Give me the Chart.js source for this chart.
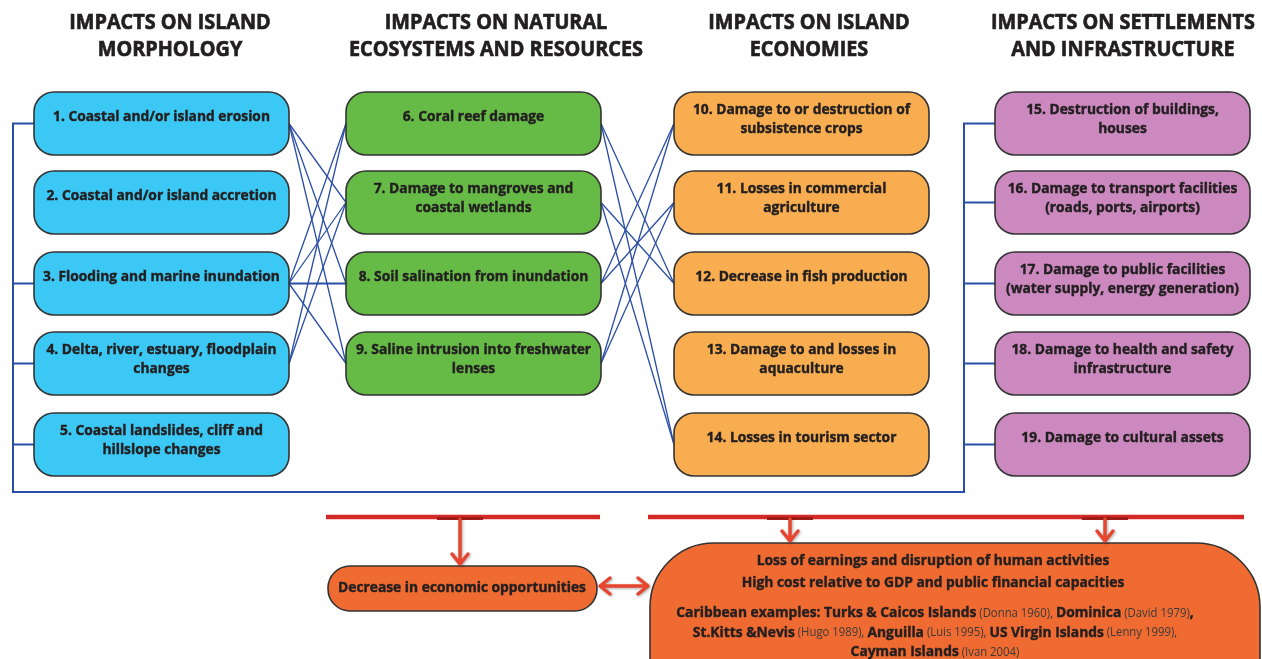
<!DOCTYPE html>
<html>
<head>
<meta charset="utf-8">
<script src="https://cdn.jsdelivr.net/npm/chart.js@4.4.1/dist/chart.umd.min.js"></script>
<style>
  html, body { margin: 0; padding: 0; background: #fff; }
  #wrap { width: 1262px; height: 659px; }
</style>
</head>
<body>
<div id="wrap"><canvas id="impactChart" width="1262" height="659"></canvas></div>
<script>
// ---- content ----
const headings = [
  ['IMPACTS ON ISLAND', 'MORPHOLOGY'],
  ['IMPACTS ON NATURAL', 'ECOSYSTEMS AND RESOURCES'],
  ['IMPACTS ON ISLAND', 'ECONOMIES'],
  ['IMPACTS ON SETTLEMENTS', 'AND INFRASTRUCTURE']
];
const morphology = [
  ['1. Coastal and/or island erosion'],
  ['2. Coastal and/or island accretion'],
  ['3. Flooding and marine inundation'],
  ['4. Delta, river, estuary, floodplain', 'changes'],
  ['5. Coastal landslides, cliff and', 'hillslope changes']
];
const ecosystems = [
  ['6. Coral reef damage'],
  ['7. Damage to mangroves and', 'coastal wetlands'],
  ['8. Soil salination from inundation'],
  ['9. Saline intrusion into freshwater', 'lenses']
];
const economies = [
  ['10. Damage to or destruction of', 'subsistence crops'],
  ['11. Losses in commercial', 'agriculture'],
  ['12. Decrease in fish production'],
  ['13. Damage to and losses in', 'aquaculture'],
  ['14. Losses in tourism sector']
];
const settlements = [
  ['15. Destruction of buildings,', 'houses'],
  ['16. Damage to transport facilities', '(roads, ports, airports)'],
  ['17. Damage to public facilities', '(water supply, energy generation)'],
  ['18. Damage to health and safety', 'infrastructure'],
  ['19. Damage to cultural assets']
];
// which impact leads to which (item numbers)
const links = [
  [1, 7], [1, 8], [1, 9],
  [3, 6], [3, 7], [3, 8], [3, 9],
  [4, 6], [4, 7],
  [6, 12], [6, 14], [7, 12], [7, 14],
  [8, 10], [8, 11], [9, 10], [9, 11]
];
const leftBracket = [1, 3, 4, 5];
const rightBracket = [15, 16, 17, 18, 19];
const sideEffect = 'Decrease in economic opportunities';
const mainEffects = [
  'Loss of earnings and disruption of human activities',
  'High cost relative to GDP and public financial capacities'
];
// [text, bold]
const examples = [
  [['Caribbean examples: Turks & Caicos Islands', true], [' (Donna 1960), ', false], ['Dominica', true], [' (David 1979)', false], [',', true]],
  [['St.Kitts &Nevis', true], [' (Hugo 1989), ', false], ['Anguilla', true], [' (Luis 1995), ', false], ['US Virgin Islands', true], [' (Lenny 1999),', false]],
  [['Cayman Islands', true], [' (Ivan 2004)', false]]
];

// ---- layout / style ----
const columns = [morphology, ecosystems, economies, settlements];
const colFill = ['#3cc8f4', '#66bb47', '#f8ae50', '#cb89bf'];
const colLeft = [34, 346, 674, 995];
const boxW = 255, boxH = 63, boxR = 20;
const rowTop = [92, 171, 252, 332, 413];
const headingX = [170, 496, 809, 1123];
const bracketX = [13, 964], bracketBottom = 492;
const linkColor = '#2a4ea6';
const ink = '#231f20';
const orange = '#f06b31';
const redLine = '#d42a27', redArrow = '#e8452f';
const face = "'Open Sans'";
const boxFont = `bold 15px ${face}`;
const squeeze = 0.92;

function itemPos(n) {
  let k = n - 1;
  for (let c = 0; c < columns.length; c++) {
    if (k < columns[c].length) return { c, r: k };
    k -= columns[c].length;
  }
}
const midY = r => rowTop[r] + boxH / 2;

// ---- line datasets (links, brackets, red bars) ----
const datasets = [];
function addLine(points, color, width) {
  datasets.push({
    data: points.map(p => ({ x: p[0], y: p[1] })),
    showLine: true, borderColor: color, borderWidth: width,
    pointRadius: 0, fill: false, tension: 0
  });
}
links.forEach(([a, b]) => {
  const pa = itemPos(a), pb = itemPos(b);
  const w = pa.r === pb.r ? 2.2 : 1.3;
  addLine([[colLeft[pa.c] + boxW, midY(pa.r)], [colLeft[pb.c], midY(pb.r)]], linkColor, w);
});
{
  const first = itemPos(leftBracket[0]), last = itemPos(rightBracket[0]);
  addLine([[colLeft[0], midY(first.r)], [bracketX[0], midY(first.r)], [bracketX[0], bracketBottom],
           [bracketX[1], bracketBottom], [bracketX[1], midY(last.r)], [colLeft[3], midY(last.r)]], linkColor, 2);
  leftBracket.slice(1).forEach(n => { const p = itemPos(n); addLine([[bracketX[0], midY(p.r)], [colLeft[0], midY(p.r)]], linkColor, 2); });
  rightBracket.slice(1).forEach(n => { const p = itemPos(n); addLine([[bracketX[1], midY(p.r)], [colLeft[3], midY(p.r)]], linkColor, 2); });
}
const barY = 517;
addLine([[326, barY], [600, barY]], redLine, 4.5);
addLine([[648, barY], [1244, barY]], redLine, 4.5);

// ---- drawing helpers ----
function roundBox(ctx, x, y, w, h, r, fill) {
  ctx.beginPath();
  ctx.moveTo(x + r, y);
  ctx.arcTo(x + w, y, x + w, y + h, r);
  ctx.arcTo(x + w, y + h, x, y + h, r);
  ctx.arcTo(x, y + h, x, y, r);
  ctx.arcTo(x, y, x + w, y, r);
  ctx.closePath();
  ctx.fillStyle = fill;
  ctx.fill();
  ctx.lineWidth = 1.6;
  ctx.strokeStyle = '#333';
  ctx.stroke();
}
function squeezedText(ctx, str, x, y, font, sx, heavy) {
  ctx.save();
  ctx.font = font;
  ctx.textAlign = 'center';
  ctx.textBaseline = 'middle';
  ctx.fillStyle = ink;
  ctx.translate(x, y);
  ctx.scale(sx, 1);
  ctx.fillText(str, 0, 0);
  ctx.strokeStyle = ink;
  ctx.lineWidth = heavy || 0.45;
  ctx.strokeText(str, 0, 0);
  ctx.restore();
}
function richLine(ctx, parts, cx, y) {
  const fr = `13.5px ${face}`;
  const sb = squeeze, sr = 0.84;
  ctx.save();
  let total = 0;
  const widths = parts.map(([t, b]) => {
    ctx.font = b ? boxFont : fr;
    const w = ctx.measureText(t).width * (b ? sb : sr);
    total += w;
    return w;
  });
  let x = cx - total / 2;
  ctx.textBaseline = 'middle';
  ctx.textAlign = 'left';
  parts.forEach(([t, b], i) => {
    ctx.save();
    ctx.font = b ? boxFont : fr;
    ctx.fillStyle = b ? ink : '#3a3a3a';
    ctx.translate(x, y);
    ctx.scale(b ? sb : sr, 1);
    ctx.fillText(t, 0, 0);
    if (b) {
      ctx.strokeStyle = ink;
      ctx.lineWidth = 0.45;
      ctx.strokeText(t, 0, 0);
    }
    ctx.restore();
    x += widths[i];
  });
  ctx.restore();
}
function arrowStyle(ctx) {
  ctx.strokeStyle = redArrow;
  ctx.lineWidth = 3.5;
  ctx.lineCap = 'round';
  ctx.lineJoin = 'round';
  ctx.shadowColor = 'rgba(0,0,0,0.35)';
  ctx.shadowBlur = 3;
  ctx.shadowOffsetX = 1;
  ctx.shadowOffsetY = 1;
}
function arrowDown(ctx, x, y0, y1) {
  ctx.save();
  arrowStyle(ctx);
  ctx.beginPath();
  ctx.moveTo(x, y0); ctx.lineTo(x, y1 - 2);
  ctx.moveTo(x - 8, y1 - 12); ctx.lineTo(x, y1 - 2); ctx.lineTo(x + 8, y1 - 12);
  ctx.stroke();
  ctx.restore();
}
function arrowBoth(ctx, x0, x1, y) {
  ctx.save();
  arrowStyle(ctx);
  ctx.beginPath();
  ctx.moveTo(x0 + 2, y); ctx.lineTo(x1 - 2, y);
  ctx.moveTo(x0 + 12, y - 8); ctx.lineTo(x0 + 2, y); ctx.lineTo(x0 + 12, y + 8);
  ctx.moveTo(x1 - 12, y - 8); ctx.lineTo(x1 - 2, y); ctx.lineTo(x1 - 12, y + 8);
  ctx.stroke();
  ctx.restore();
}

const diagram = {
  id: 'diagram',
  afterDatasetsDraw(chart) {
    const ctx = chart.ctx;
    const X = v => chart.scales.x.getPixelForValue(v);
    const Y = v => chart.scales.y.getPixelForValue(v);

    // headings
    headings.forEach((lines, c) => {
      lines.forEach((t, i) => squeezedText(ctx, t, X(headingX[c]), Y(23 + i * 27), `bold 22px ${face}`, 0.9, 0.7));
    });

    // impact boxes
    columns.forEach((items, c) => {
      items.forEach((lines, r) => {
        const x0 = X(colLeft[c]), y0 = Y(rowTop[r]);
        roundBox(ctx, x0, y0, X(colLeft[c] + boxW) - x0, Y(rowTop[r] + boxH) - y0, boxR, colFill[c]);
        const cx = X(colLeft[c] + boxW / 2);
        if (lines.length === 1) {
          squeezedText(ctx, lines[0], cx, Y(rowTop[r] + 25), boxFont, squeeze);
        } else {
          lines.forEach((t, i) => squeezedText(ctx, t, cx, Y(rowTop[r] + 18 + i * 19), boxFont, squeeze));
        }
      });
    });

    // consequences
    ctx.save();
    ctx.fillStyle = '#9e1c1a';
    ctx.fillRect(X(437), Y(barY), X(483) - X(437), 3);
    ctx.fillRect(X(767), Y(barY), X(813) - X(767), 3);
    ctx.fillRect(X(1082), Y(barY), X(1128) - X(1082), 3);
    ctx.restore();

    roundBox(ctx, X(328), Y(566), X(597) - X(328), Y(611) - Y(566), 22, orange);
    squeezedText(ctx, sideEffect, X(462), Y(588), boxFont, squeeze);

    roundBox(ctx, X(650), Y(543), X(1260) - X(650), Y(740) - Y(543), 64, orange);
    mainEffects.forEach((t, i) => squeezedText(ctx, t, X(933), Y(561 + i * 22), boxFont, squeeze));
    examples.forEach((parts, i) => richLine(ctx, parts, X(935), Y(613 + i * 19.5)));

    arrowDown(ctx, X(460), Y(519), Y(566));
    arrowDown(ctx, X(790), Y(519), Y(543));
    arrowDown(ctx, X(1105), Y(519), Y(543));
    arrowBoth(ctx, X(598), X(650), Y(586));
  }
};

new Chart(document.getElementById('impactChart'), {
  type: 'scatter',
  data: { datasets },
  options: {
    responsive: false,
    animation: false,
    layout: { padding: 0 },
    scales: {
      x: { type: 'linear', min: 0, max: 1262, display: false },
      y: { type: 'linear', min: 0, max: 659, reverse: true, display: false }
    },
    plugins: { legend: { display: false }, tooltip: { enabled: false } },
    events: []
  },
  plugins: [diagram]
});
</script>
</body>
</html>
